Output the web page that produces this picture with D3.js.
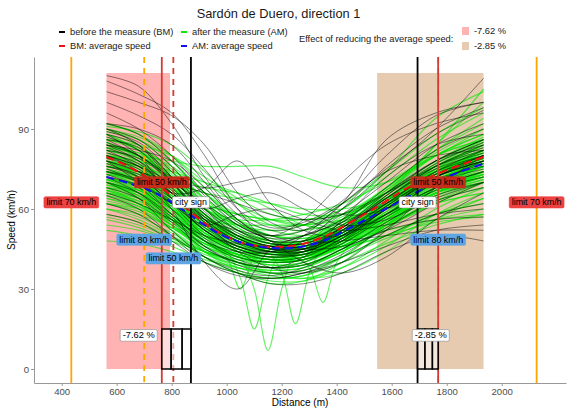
<!DOCTYPE html>
<html>
<head>
<meta charset="utf-8">
<script src="https://cdn.jsdelivr.net/npm/d3@7"></script>
<style>
  body { margin: 0; background: #fff; }
  text { font-family: "Liberation Sans", Arial, sans-serif; }
</style>
</head>
<body>
<svg id="chart" width="571" height="409"></svg>
<script>
var distGrid = [563, 680, 800, 920, 1040, 1160, 1280, 1420, 1580, 1760, 1934];

// before the measure (BM), speed km/h at distGrid
var bmRuns = [
  [110, 106, 92, 72, 58, 52, 54, 62, 75, 88, 97],
  [108, 103, 96, 80, 60, 48, 50, 58, 70, 84, 92],
  [104, 100, 95, 84, 66, 55, 52, 60, 74, 90, 109],
  [100, 95, 88, 75, 60, 53, 55, 63, 80, 95, 100],
  [96, 90, 80, 66, 55, 50, 48, 55, 68, 82, 90],
  [92, 88, 78, 65, 54, 49, 50, 56, 66, 78, 86],
  [90, 86, 76, 62, 52, 47, 47, 53, 64, 76, 84],
  [89, 85, 74, 60, 50, 46, 46, 52, 62, 74, 82],
  [88, 84, 72, 58, 49, 45, 45, 51, 62, 74, 80],
  [87, 82, 70, 56, 48, 44, 45, 52, 64, 76, 83],
  [86, 83, 72, 59, 51, 47, 47, 53, 65, 77, 85],
  [85, 80, 70, 57, 49, 45, 44, 50, 60, 72, 78],
  [84, 80, 71, 60, 52, 48, 48, 54, 63, 73, 80],
  [83, 78, 68, 55, 47, 44, 45, 53, 66, 78, 84],
  [82, 79, 70, 58, 50, 46, 45, 50, 58, 68, 74],
  [81, 77, 66, 54, 46, 43, 43, 49, 60, 72, 79],
  [80, 76, 67, 56, 48, 44, 44, 50, 61, 73, 80],
  [79, 75, 64, 52, 45, 42, 43, 48, 58, 70, 77],
  [78, 74, 66, 55, 48, 45, 46, 53, 64, 75, 81],
  [77, 72, 62, 50, 44, 41, 42, 49, 60, 71, 76],
  [76, 73, 66, 57, 50, 46, 46, 51, 60, 70, 75],
  [75, 70, 60, 49, 42, 40, 41, 47, 57, 67, 72],
  [74, 71, 63, 53, 46, 43, 44, 50, 61, 72, 78],
  [73, 68, 58, 48, 41, 38, 39, 45, 55, 65, 70],
  [72, 69, 62, 52, 45, 42, 44, 52, 65, 78, 86],
  [70, 66, 57, 46, 39, 36, 37, 43, 53, 63, 68],
  [68, 64, 55, 45, 40, 38, 40, 48, 60, 72, 80],
  [65, 60, 50, 40, 35, 34, 36, 42, 50, 58, 62],
  [62, 58, 50, 42, 37, 35, 38, 45, 52, 56, 57],
  [58, 55, 48, 40, 36, 34, 36, 40, 46, 52, 54],
  [82, 76, 66, 68, 78, 62, 52, 50, 58, 68, 74],
  [80, 74, 60, 40, 30, 45, 50, 55, 62, 72, 78],
  [76, 72, 64, 56, 52, 50, 52, 62, 86, 96, 100],
  [92, 90, 84, 70, 56, 50, 56, 70, 84, 92, 96],
  [74, 70, 62, 54, 58, 60, 56, 52, 54, 58, 60],
  [66, 62, 56, 50, 47, 46, 47, 48, 50, 52, 52],
  [70, 64, 52, 42, 36, 32, 32, 36, 44, 50, 48],
  [88, 80, 64, 52, 46, 44, 48, 60, 76, 90, 98],
  [84, 82, 78, 68, 56, 48, 45, 46, 52, 62, 70],
  [78, 70, 58, 48, 44, 44, 50, 62, 74, 80, 82],
  [86, 80, 72, 68, 70, 72, 66, 58, 60, 70, 78],
  [78, 74, 70, 66, 62, 58, 56, 58, 66, 76, 82],
  [90, 84, 70, 56, 44, 38, 36, 40, 52, 68, 80],
  [72, 66, 56, 46, 40, 38, 42, 56, 72, 84, 88],
  [84, 78, 66, 60, 64, 66, 60, 54, 56, 64, 70],
  [80, 76, 70, 62, 54, 48, 40, 36, 42, 56, 66]
];

// after the measure (AM), speed km/h at distGrid
var amRuns = [
  [92, 88, 80, 68, 56, 50, 50, 56, 68, 82, 92],
  [90, 86, 76, 63, 53, 48, 48, 55, 67, 80, 88],
  [88, 84, 74, 62, 52, 47, 47, 53, 64, 77, 85],
  [87, 82, 72, 60, 51, 47, 48, 55, 67, 81, 90],
  [86, 83, 75, 64, 54, 49, 48, 53, 62, 74, 82],
  [85, 80, 70, 58, 50, 46, 46, 52, 63, 76, 84],
  [84, 81, 73, 62, 53, 48, 47, 52, 61, 72, 79],
  [83, 78, 68, 57, 49, 45, 45, 51, 62, 74, 81],
  [82, 79, 71, 60, 52, 48, 48, 54, 65, 78, 87],
  [81, 76, 66, 55, 48, 45, 45, 50, 60, 72, 79],
  [80, 77, 69, 58, 50, 46, 46, 51, 61, 73, 80],
  [80, 75, 65, 54, 47, 44, 44, 49, 59, 70, 76],
  [79, 76, 68, 57, 49, 45, 45, 51, 62, 75, 84],
  [78, 74, 64, 53, 46, 43, 43, 49, 60, 73, 81],
  [78, 75, 67, 56, 48, 44, 44, 50, 60, 71, 77],
  [77, 73, 63, 52, 45, 42, 43, 50, 62, 75, 82],
  [76, 73, 66, 56, 49, 46, 46, 52, 62, 73, 79],
  [76, 72, 62, 51, 45, 42, 42, 48, 58, 69, 74],
  [75, 72, 65, 55, 48, 45, 45, 50, 60, 72, 80],
  [75, 71, 62, 52, 46, 43, 44, 51, 63, 76, 83],
  [74, 71, 64, 54, 47, 44, 44, 50, 61, 73, 79],
  [74, 70, 61, 51, 45, 42, 42, 47, 57, 68, 74],
  [73, 70, 63, 54, 48, 45, 45, 51, 62, 74, 81],
  [73, 69, 60, 50, 44, 41, 42, 49, 60, 72, 78],
  [72, 69, 62, 53, 47, 45, 46, 52, 62, 72, 77],
  [72, 68, 60, 50, 44, 42, 43, 50, 61, 73, 80],
  [71, 68, 61, 52, 46, 44, 44, 49, 58, 68, 73],
  [71, 67, 59, 49, 43, 40, 41, 47, 58, 70, 77],
  [70, 67, 60, 52, 46, 43, 43, 48, 58, 70, 78],
  [70, 66, 58, 48, 42, 40, 41, 48, 60, 73, 82],
  [69, 66, 60, 51, 45, 43, 43, 48, 57, 67, 72],
  [69, 65, 57, 48, 43, 41, 42, 49, 61, 75, 85],
  [68, 65, 58, 50, 45, 43, 44, 50, 60, 71, 77],
  [68, 64, 56, 47, 42, 39, 40, 46, 56, 67, 73],
  [67, 64, 57, 49, 44, 42, 43, 50, 62, 74, 80],
  [66, 63, 56, 48, 43, 41, 42, 48, 58, 68, 74],
  [65, 62, 55, 47, 42, 40, 41, 47, 57, 68, 75],
  [64, 61, 54, 47, 43, 41, 41, 46, 54, 63, 68],
  [63, 60, 53, 45, 40, 38, 39, 45, 55, 66, 72],
  [62, 59, 53, 46, 42, 40, 41, 47, 57, 69, 76],
  [60, 57, 51, 44, 40, 38, 39, 44, 53, 62, 66],
  [58, 55, 49, 43, 39, 37, 38, 44, 53, 63, 70],
  [56, 53, 48, 42, 38, 36, 37, 42, 50, 58, 62],
  [52, 50, 46, 41, 38, 36, 37, 42, 49, 56, 60],
  [48, 47, 44, 40, 36, 34, 35, 40, 47, 54, 58],
  [91, 89, 84, 74, 62, 54, 52, 56, 66, 78, 86],
  [90, 87, 80, 70, 62, 56, 54, 58, 68, 82, 94],
  [89, 86, 78, 66, 56, 50, 49, 54, 66, 84, 100],
  [84, 80, 72, 62, 58, 56, 56, 58, 66, 84, 105],
  [82, 80, 78, 76, 76, 76, 72, 68, 70, 80, 90],
  [78, 76, 72, 68, 66, 62, 58, 58, 64, 76, 86],
  [86, 82, 74, 64, 56, 52, 50, 52, 58, 68, 74],
  [83, 80, 72, 60, 50, 45, 44, 48, 56, 66, 72],
  [81, 77, 67, 56, 49, 46, 47, 54, 66, 80, 88],
  [79, 74, 64, 54, 48, 46, 48, 56, 68, 80, 86],
  [77, 74, 68, 60, 52, 47, 45, 48, 56, 66, 72],
  [75, 70, 60, 50, 44, 41, 41, 46, 55, 65, 70],
  [74, 72, 66, 58, 50, 45, 43, 46, 54, 66, 74],
  [72, 67, 58, 48, 42, 39, 39, 44, 54, 66, 73],
  [71, 69, 63, 55, 48, 44, 43, 47, 56, 68, 76],
  [70, 65, 56, 46, 41, 39, 40, 47, 58, 70, 76],
  [68, 66, 60, 53, 48, 45, 45, 49, 57, 66, 71],
  [67, 62, 54, 45, 40, 38, 39, 45, 56, 68, 76],
  [66, 64, 58, 50, 45, 42, 42, 46, 55, 66, 73],
  [64, 60, 52, 44, 39, 37, 38, 44, 54, 65, 71],
  [88, 82, 70, 58, 50, 46, 46, 50, 58, 70, 78],
  [85, 79, 68, 57, 50, 47, 47, 52, 61, 72, 78],
  [83, 81, 76, 66, 55, 48, 46, 50, 60, 74, 84],
  [80, 76, 68, 60, 54, 50, 49, 52, 60, 70, 76],
  [78, 72, 61, 51, 45, 43, 44, 51, 63, 77, 86],
  [76, 74, 68, 58, 49, 44, 43, 48, 58, 70, 78],
  [73, 71, 65, 56, 49, 46, 46, 52, 63, 76, 84],
  [71, 66, 57, 48, 43, 41, 42, 48, 59, 71, 78],
  [69, 67, 62, 55, 49, 46, 45, 49, 57, 67, 72],
  [67, 63, 56, 48, 43, 41, 42, 49, 61, 74, 82],
  [62, 60, 56, 50, 46, 44, 45, 50, 58, 66, 70],
  [60, 58, 53, 47, 43, 41, 42, 47, 56, 66, 72],
  [57, 54, 49, 44, 40, 38, 39, 45, 55, 66, 74],
  [54, 52, 48, 44, 41, 40, 41, 46, 54, 62, 66],
  [92, 88, 78, 66, 58, 54, 54, 60, 72, 86, 96],
  [90, 84, 72, 60, 54, 52, 54, 62, 74, 88, 98],
  [86, 84, 80, 72, 64, 58, 56, 60, 74, 94, 104],
  [70, 66, 58, 50, 45, 43, 44, 48, 52, 56, 58],
  [65, 61, 54, 46, 42, 40, 41, 45, 50, 55, 57],
  [62, 58, 50, 42, 36, 33, 33, 38, 48, 60, 68],
  [68, 62, 52, 42, 36, 32, 33, 40, 52, 64, 70],
  [74, 68, 56, 44, 37, 34, 35, 42, 54, 66, 72],
  [80, 78, 74, 70, 66, 60, 54, 52, 58, 70, 80],
  [76, 74, 70, 66, 64, 62, 60, 60, 64, 74, 82],
  [88, 82, 70, 60, 56, 56, 58, 62, 70, 80, 86],
  [74, 70, 62, 56, 54, 54, 54, 56, 62, 72, 80],
  [70, 64, 54, 44, 38, 35, 34, 38, 46, 58, 66],
  [78, 72, 60, 48, 40, 36, 36, 42, 54, 68, 76],
  [66, 62, 56, 52, 50, 48, 46, 46, 50, 58, 64],
  [84, 80, 72, 62, 54, 50, 52, 58, 66, 74, 78],
  [82, 78, 70, 62, 58, 56, 54, 52, 54, 62, 70],
  [60, 56, 50, 44, 40, 36, 34, 36, 44, 56, 64]
];

// AM runs with a sharp braking dip, read on a finer grid
var dipGrid = [563, 680, 800, 920, 1000, 1050, 1100, 1150, 1200, 1250, 1300, 1350, 1400, 1480, 1580, 1760, 1934];
var amDipRuns = [
  [74, 70, 62, 52, 46, 42, 30, 7, 30, 44, 48, 50, 54, 58, 64, 74, 80],
  [70, 66, 58, 48, 44, 34, 15, 34, 44, 46, 48, 52, 56, 60, 66, 76, 82],
  [78, 74, 64, 54, 48, 46, 45, 44, 36, 17, 36, 46, 52, 58, 64, 74, 80],
  [66, 62, 55, 48, 44, 42, 41, 41, 42, 42, 38, 25, 40, 50, 58, 70, 76],
  [72, 68, 60, 50, 42, 30, 42, 46, 46, 47, 49, 52, 55, 60, 66, 75, 80]
];

// average speed profiles
var avgGrid = [563, 650, 750, 850, 950, 1050, 1150, 1250, 1350, 1450, 1550, 1650, 1750, 1850, 1934];
var bmAverage = [79.6, 75.5, 69, 60.5, 52.5, 47.5, 45.8, 46.3, 49.5, 55, 61, 67.5, 72.5, 76.5, 79.5];
var amAverage = [72, 69.5, 65.5, 59, 52, 47.5, 45.5, 45.5, 48, 53, 58.5, 64, 69.5, 74, 77];

// road signs (vertical lines)
var signDist  = [435, 700, 764, 806, 870, 1694, 1769, 1769, 2127];
var signColor = ["#ffa500", "#ffa500", "#d23a32", "#d23a32", "#000000", "#000000", "#ffa500", "#d23a32", "#ffa500"];
var signDash  = [false, true, false, true, false, false, true, false, false];

// sign labels
var labelText  = ["limit 70 km/h", "limit 80 km/h", "limit 50 km/h", "limit 50 km/h", "city sign",
                  "city sign", "limit 50 km/h", "limit 80 km/h", "limit 70 km/h"];
var labelDist  = [435, 700, 764, 806, 870, 1694, 1769, 1769, 2127];
var labelSpeed = [62.5, 48.5, 70, 41.5, 62.5, 62.5, 70, 48.5, 62.5];
var labelFill  = ["#ec4242", "#5fa4e3", "#c52d1b", "#5fa4e3", "#ffffff",
                  "#ffffff", "#c52d1b", "#5fa4e3", "#ec4242"];

// effect zones
var effectNames = ["-7.62 %", "-2.85 %"];
var effectFrom  = [563, 1547];
var effectTo    = [794, 1934];
var effectTop   = 111;
var effectFill  = ["#ffb3b3", "#e6cbb1"];
var effectLabelDist = [680, 1742];
var effectLabelSpeed = 12.6;

// crossing boxes (edges in m), height in km/h units
var boxEdges = [[764, 798, 838, 870], [1694, 1721, 1748, 1769]];
var boxTop = 15;

var xTicks = [400, 600, 800, 1000, 1200, 1400, 1600, 1800, 2000];
var yTicks = [0, 30, 60, 90];

var svg = d3.select("#chart");

var x = d3.scaleLinear().domain([299.3, 2233.8]).range([34, 566]);
var y = d3.scaleLinear().domain([-5.25, 117]).range([383, 57]);

var plot = svg.append("g");

// effect zones
plot.selectAll("rect.zone")
  .data(effectFrom).enter().append("rect")
  .attr("x", (d, i) => x(d))
  .attr("width", (d, i) => x(effectTo[i]) - x(d))
  .attr("y", y(effectTop))
  .attr("height", y(0) - y(effectTop))
  .attr("fill", (d, i) => effectFill[i]);

var lineMaker = d3.line()
  .x(d => x(d[0]))
  .y(d => y(d[1]))
  .curve(d3.curveCatmullRom.alpha(0.5));

function pairs(grid, vals) {
  return vals.map((v, i) => [grid[i], v]);
}

// AM runs
var gAm = plot.append("g").attr("id", "am");
gAm.selectAll("path.run")
  .data(amRuns).enter().append("path")
  .attr("fill", "none")
  .attr("stroke", "rgba(0,230,0,0.6)")
  .attr("stroke-width", 1.2)
  .attr("d", d => lineMaker(pairs(distGrid, d)));
gAm.selectAll("path.dip")
  .data(amDipRuns).enter().append("path")
  .attr("fill", "none")
  .attr("stroke", "rgba(0,230,0,0.6)")
  .attr("stroke-width", 1.1)
  .attr("d", d => lineMaker(pairs(dipGrid, d)));

// BM runs
plot.append("g").attr("id", "bm")
  .selectAll("path")
  .data(bmRuns).enter().append("path")
  .attr("fill", "none")
  .attr("stroke", "rgba(0,0,0,0.6)")
  .attr("stroke-width", 0.8)
  .attr("d", d => lineMaker(pairs(distGrid, d)));

// averages
plot.append("path")
  .attr("fill", "none").attr("stroke", "#ee1111").attr("stroke-width", 2.2)
  .attr("stroke-dasharray", "8,5")
  .attr("d", lineMaker(pairs(avgGrid, bmAverage)));
plot.append("path")
  .attr("fill", "none").attr("stroke", "#1111ee").attr("stroke-width", 2.2)
  .attr("stroke-dasharray", "8,5")
  .attr("d", lineMaker(pairs(avgGrid, amAverage)));

// sign lines
plot.selectAll("line.sign")
  .data(signDist).enter().append("line")
  .attr("x1", d => x(d)).attr("x2", d => x(d))
  .attr("y1", y.range()[1]).attr("y2", y.range()[0])
  .attr("stroke", (d, i) => signColor[i])
  .attr("stroke-width", 1.8)
  .attr("stroke-dasharray", (d, i) => signDash[i] ? "6,5" : null);

// crossing boxes
boxEdges.forEach(function(edges) {
  var g = plot.append("g");
  for (var i = 0; i < edges.length - 1; i++) {
    g.append("rect")
      .attr("x", x(edges[i])).attr("width", x(edges[i + 1]) - x(edges[i]))
      .attr("y", y(boxTop)).attr("height", y(0) - y(boxTop))
      .attr("fill", "rgba(255,255,255,0.55)")
      .attr("stroke", "#000").attr("stroke-width", 1.5);
  }
});

// labels
function addLabel(txt, cx, cy, fill, size, stroke) {
  var g = svg.append("g");
  var t = g.append("text")
    .attr("x", cx).attr("y", cy)
    .attr("text-anchor", "middle").attr("dominant-baseline", "central")
    .attr("font-size", size).attr("fill", "#000").text(txt);
  var w = t.node().getComputedTextLength();
  g.insert("rect", "text")
    .attr("x", cx - w / 2 - 2.5).attr("y", cy - size / 2 - 1.2)
    .attr("width", w + 5).attr("height", size + 2.4)
    .attr("rx", 1.5)
    .attr("fill", fill)
    .attr("stroke", stroke || fill).attr("stroke-width", 0.6);
}
labelText.forEach(function(t, i) {
  addLabel(t, x(labelDist[i]), y(labelSpeed[i]), labelFill[i], 8.9,
    labelFill[i] === "#ffffff" ? "#888" : null);
});
effectNames.forEach(function(t, i) {
  addLabel(t, x(effectLabelDist[i]), y(effectLabelSpeed), "#ffffff", 9.3, "#888");
});

// axes
var xAxis = svg.append("g").attr("transform", "translate(0," + y.range()[0] + ")")
  .call(d3.axisBottom(x).tickValues(xTicks).tickFormat(d3.format("d"))
    .tickSize(3).tickSizeOuter(0).tickPadding(2));
var yAxis = svg.append("g").attr("transform", "translate(" + x.range()[0] + ",0)")
  .call(d3.axisLeft(y).tickValues(yTicks).tickSize(3).tickSizeOuter(0).tickPadding(2));
[xAxis, yAxis].forEach(function(a) {
  a.select(".domain").attr("stroke", "#999");
  a.selectAll(".tick line").attr("stroke", "#999");
  a.selectAll(".tick text").attr("fill", "#4d4d4d").attr("font-size", 9.6)
    .attr("font-family", "Liberation Sans, Arial, sans-serif");
});

svg.append("text").attr("x", 300).attr("y", 406).attr("text-anchor", "middle")
  .attr("font-size", 10).text("Distance (m)");
svg.append("text").attr("transform", "translate(15,220) rotate(-90)")
  .attr("text-anchor", "middle").attr("font-size", 10).text("Speed (km/h)");

// title
svg.append("text").attr("x", 278.5).attr("y", 18).attr("text-anchor", "middle")
  .attr("font-size", 12.8).attr("fill", "#1a1a1a").text("Sardón de Duero, direction 1");

// legend
var legNames = ["before the measure (BM)", "BM: average speed", "after the measure (AM)", "AM: average speed"];
var legColors = ["#000000", "#ee1111", "#00ee00", "#1111ee"];
var legX = [59, 59, 181, 181];
var legY = [32, 46, 32, 46];
legNames.forEach(function(n, i) {
  svg.append("line").attr("x1", legX[i]).attr("x2", legX[i] + 6)
    .attr("y1", legY[i]).attr("y2", legY[i])
    .attr("stroke", legColors[i]).attr("stroke-width", 2);
  svg.append("text").attr("x", legX[i] + 11).attr("y", legY[i])
    .attr("dominant-baseline", "central").attr("font-size", 9.3).attr("fill", "#1a1a1a").text(n);
});
svg.append("text").attr("x", 299).attr("y", 39).attr("dominant-baseline", "central")
  .attr("font-size", 9.3).attr("fill", "#1a1a1a").text("Effect of reducing the average speed:");
effectNames.forEach(function(n, i) {
  var cy = [31, 46][i];
  svg.append("rect").attr("x", 462).attr("y", cy - 4).attr("width", 7).attr("height", 8)
    .attr("fill", effectFill[i]);
  svg.append("text").attr("x", 474).attr("y", cy).attr("dominant-baseline", "central")
    .attr("font-size", 9.3).attr("fill", "#1a1a1a").text(n);
});
</script>
</body>
</html>
